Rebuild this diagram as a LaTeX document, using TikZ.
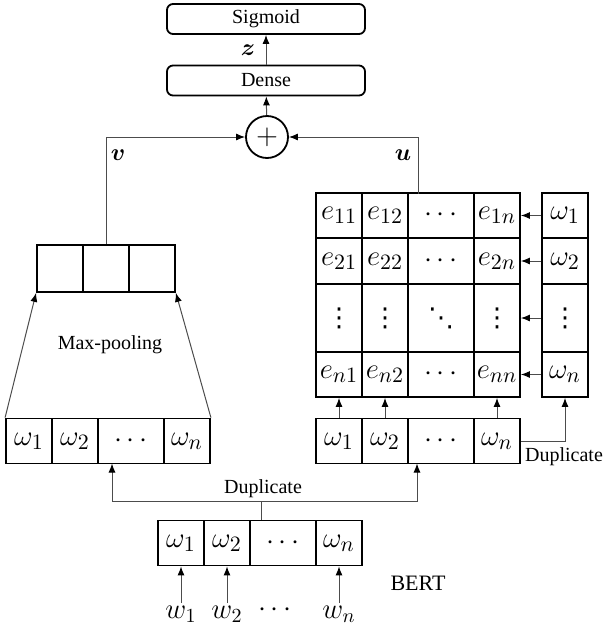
\documentclass[tikz,border=0pt]{standalone}
\usepackage{fontspec}
\setmainfont{Liberation Serif}
\newfontfamily\symfont{DejaVu Sans}
\usepackage{bm}
\usetikzlibrary{arrows.meta}

\begin{document}
\begin{tikzpicture}[
			x=0.5pt, y=-0.5pt,
			cell/.style={draw, line width=0.9pt, inner sep=0pt, minimum width=23pt, minimum height=22.5pt, font=\fontsize{15}{17}\selectfont},
			widecell/.style={cell, minimum width=33pt},
			dotcell/.style={cell, minimum height=34pt, font=\symfont\fontsize{13}{14}\selectfont},
			layer/.style={draw, rounded corners=3pt, line width=0.9pt, inner sep=0pt, minimum width=99pt, minimum height=15pt, font=\fontsize{10}{12}\selectfont},
			sumnode/.style={draw, circle, line width=0.9pt, inner sep=0pt, minimum size=21pt, font=\Large},
			lbl/.style={inner sep=1pt, font=\fontsize{10}{12}\selectfont},
			word/.style={inner sep=1pt, font=\fontsize{14}{16}\selectfont},
			arrow/.style={draw=black!70, line width=0.5pt, -{Latex[length=4.5pt, width=3.5pt, color=black]}},
			line/.style={draw=black!70, line width=0.5pt},
		]
		\useasboundingbox (0,0) rectangle (607,632);

		% output layers
		\node[layer] (sigmoid) at (266,19)   {Sigmoid};
		\node[layer] (dense)   at (266,80.5) {Dense};
		\node[sumnode] (sum)   at (267,137)  {$+$};

		% pooled vector
		\node[cell, minimum height=23.5pt] (p1) at (60,268.5)  {};
		\node[cell, minimum height=23.5pt] (p2) at (106,268.5) {};
		\node[cell, minimum height=23.5pt] (p3) at (152,268.5) {};

		% left copy of the embeddings
		\node[cell]     (l1) at (29,441)  {$\omega_1$};
		\node[cell]     (l2) at (75,441)  {$\omega_2$};
		\node[widecell] (l3) at (131,441) {$\cdots$};
		\node[cell]     (l4) at (187,441) {$\omega_n$};

		% right copy of the embeddings
		\node[cell]     (r1) at (339,441) {$\omega_1$};
		\node[cell]     (r2) at (385,441) {$\omega_2$};
		\node[widecell] (r3) at (441,441) {$\cdots$};
		\node[cell]     (r4) at (497,441) {$\omega_n$};

		% interaction matrix
		\node[cell]     (m11) at (339,215.5) {$e_{11}$};
		\node[cell]     (m12) at (385,215.5) {$e_{12}$};
		\node[widecell] (m13) at (441,215.5) {$\cdots$};
		\node[cell]     (m14) at (497,215.5) {$e_{1n}$};
		\node[cell]     (m21) at (339,261) {$e_{21}$};
		\node[cell]     (m22) at (385,261) {$e_{22}$};
		\node[widecell] (m23) at (441,261) {$\cdots$};
		\node[cell]     (m24) at (497,261) {$e_{2n}$};
		\node[dotcell]  (m31) at (339,318) {⋮};
		\node[dotcell]  (m32) at (385,318) {⋮};
		\node[dotcell, minimum width=33pt] (m33) at (441,318) {⋱};
		\node[dotcell]  (m34) at (497,318) {⋮};
		\node[cell]     (m41) at (339,374.5) {$e_{n1}$};
		\node[cell]     (m42) at (385,374.5) {$e_{n2}$};
		\node[widecell] (m43) at (441,374.5) {$\cdots$};
		\node[cell]     (m44) at (497,374.5) {$e_{nn}$};

		% duplicated column
		\node[cell]    (c1) at (565,215.5) {$\omega_1$};
		\node[cell]    (c2) at (565,261)   {$\omega_2$};
		\node[dotcell] (c3) at (565,318)   {⋮};
		\node[cell]    (c4) at (565,374.5) {$\omega_n$};

		% BERT output and inputs
		\node[cell]     (b1) at (181,543) {$\omega_1$};
		\node[cell]     (b2) at (227,543) {$\omega_2$};
		\node[widecell] (b3) at (283,543) {$\cdots$};
		\node[cell]     (b4) at (339,543) {$\omega_n$};
		\node[word] (w1) at (181,614) {$w_1$};
		\node[word] (w2) at (227,614) {$w_2$};
		\node[word] (w3) at (275,610) {$\cdots$};
		\node[word] (w4) at (339,614) {$w_n$};

		% labels
		\node[lbl, font=\fontsize{12}{14}\selectfont] (zlab) at (248,50)  {$\bm{z}$};
		\node[lbl, font=\fontsize{12}{14}\selectfont] (vlab) at (118,155) {$\bm{v}$};
		\node[lbl, font=\fontsize{12}{14}\selectfont] (ulab) at (403,155) {$\bm{u}$};
		\node[lbl] (pooltxt) at (110,345) {Max-pooling};
		\node[lbl] (dupmid)  at (263,489) {Duplicate};
		\node[lbl] (dupside) at (564,457) {Duplicate};
		\node[lbl, font=\fontsize{11}{13}\selectfont] (bert) at (418,583) {BERT};

		\coordinate (split) at (261,501);
		\coordinate (dupL)  at (112,463.5);
		\coordinate (dupR)  at (417,463.5);
		\coordinate (uout)  at (418,193.5);

		\draw[arrow] (w1) -- (b1);
		\draw[arrow] (w2) -- (b2);
		\draw[arrow] (w4) -- (b4);

		\draw[line] (split |- b1.north) -- (split);
		\draw[arrow] (split) -| (dupL);
		\draw[arrow] (split) -| (dupR);

		\draw[arrow] (l1.north west) -- (p1.south west);
		\draw[arrow] (l4.north east) -- (p3.south east);

		\draw[arrow] (r1) -- (m41);
		\draw[arrow] (r2) -- (m42);
		\draw[arrow] (r4) -- (m44);
		\draw[arrow] (r4) -| (c4);

		\draw[arrow] (c1) -- (m14);
		\draw[arrow] (c2) -- (m24);
		\draw[arrow] (c3) -- (m34);
		\draw[arrow] (c4) -- (m44);

		\draw[arrow] (p2) |- (sum);
		\draw[arrow] (uout) |- (sum);
		\draw[arrow] (sum) -- (dense);
		\draw[arrow] (dense) -- (sigmoid);
	\end{tikzpicture}
\end{document}
